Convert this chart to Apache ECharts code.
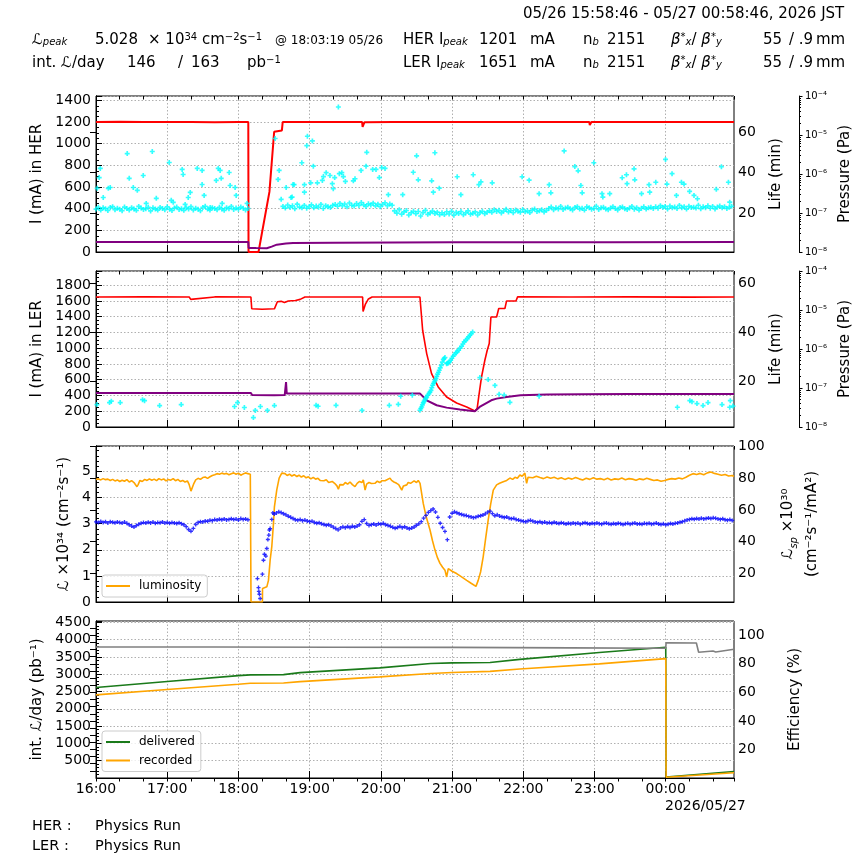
<!DOCTYPE html>
<html>
<head>
<meta charset="utf-8">
<script src="https://cdn.jsdelivr.net/npm/echarts@6/dist/echarts.min.js"></script>
<style>
  html, body { margin: 0; background: #fff; }
  #chart { width: 864px; height: 864px; }
</style>
</head>
<body>
<div id="chart"></div>
<script>
// time axis: minutes after 16:00 on 05/26
const tickMinutes = [0, 60, 120, 180, 240, 300, 360, 420, 480]
const tickLabels = ['16:00', '17:00', '18:00', '19:00', '20:00', '21:00', '22:00', '23:00', '00:00']

// HER panel (mA on left, life in min on right)
const herCurrent = [[0,1200],[20,1202],[40,1199],[60,1201],[80,1200],[100,1198],[120,1201],[128.3,1200],[128.5,0],[136.9,0],[146.1,555],[150.1,1110],[156.6,1122],[157.3,1200],[180,1201],[200,1199],[224.2,1200],[224.6,1155],[225.6,1160],[226.2,1198],[250,1200],[300,1201],[350,1199],[400,1200],[415.6,1200],[416,1172],[416.9,1178],[417.4,1200],[450,1201],[500,1199],[537.5,1200]]
const herPurple = [[0,93],[128.3,93],[128.6,38],[135,36],[143.9,34],[148,50],[152.3,68],[160,78],[166,82],[200,85],[250,87],[300,89],[350,90],[433,91],[537.5,92]]
// life band, sampled every 2 min
const herLifeA = [22.1,23.0,21.6,22.7,22.3,21.4,22.9,23.3,21.8,22.5,22.0,21.3,23.1,22.4,21.7,22.8,22.2,21.5,23.4,22.6,21.9,22.3,23.0,21.2,22.7,22.1,21.6,22.9,22.4,21.8,23.2,22.0,21.4,22.6,23.1,21.9,22.3,21.5,22.8,22.2,23.3,21.7,22.5,22.0,21.3,22.9,23.5,22.1,21.6,22.7,22.4,21.8,23.0,22.2,21.5,22.8,22.3,23.4,21.9,22.6,22.0,23.1,22.5,21.7,22.4]
const herLifeB = [23.4,22.6,24.1,22.9,23.7,22.3,24.5,23.1,22.8,23.9,22.5,23.3,24.2,22.7,23.6,23.0,24.4,22.4,23.8,23.2,22.9,24.0,
  24.3,23.5,24.9,23.8,24.6,23.2,25.1,24.0,23.6,24.8,23.9,25.3,24.2,23.4,24.7,24.1,25.0,23.7,24.5,23.3,24.4,25.2,23.8,24.6,24.0,
  21.2,20.1,21.8,19.6,20.7,21.4,19.2,20.3,21.0,19.8,20.9,18.7,20.4,21.5,19.5,20.2,21.1,19.9,20.6,19.3,
  20.3,19.4,20.8,19.7,21.0,19.1,20.5,19.9,20.9,19.3,20.2,21.2,19.6,20.0,20.7,19.2,20.4,21.0,19.8,20.6,
  21.3,20.5,21.8,20.9,21.5,20.2,21.1,22.0,20.7,21.4,20.3,21.7,21.0,20.6,21.9,20.8,21.2,20.4,21.6,22.1,20.9,21.3,21.8,20.7,21.5,
  22.4,23.1,21.8,22.7,22.2,23.4,21.9,22.6,23.0,22.3,21.7,22.9,23.3,22.1,22.5,21.6,23.2,22.8,22.0,22.4,23.5,21.9,22.7,23.0,22.2,21.8,22.6,23.3,22.4,21.7,22.9,23.1,22.3,21.9,22.6,23.4,22.0,22.8,21.6,22.5,23.2,22.1,22.7,23.0,22.4,
  23.2,22.5,23.8,22.9,23.4,22.2,23.6,22.8,23.1,22.4,23.9,22.7,23.3,22.1,23.5,22.9,23.0,22.6,24.0,22.3,23.2,22.8,23.7,22.5,23.4,22.2,23.1,23.6,22.7,23.3,22.4,23.0,23.5]
const herLifeOut = [[1.0,32.3],[2.7,37.6],[3.6,42.1],[6.1,27.8],[10.4,32.3],[12.0,32.7],[26.3,49.4],[28.0,37.2],[31.4,32.7],[34.8,31.3],[39.8,38.6],[42.3,24.9],[47.4,50.4],[50.8,27.4],[61.7,45],[63.4,26.4],[65.1,25.4],[72.6,41.6],[73.4,39.1],[75.1,24.4],[77.7,27.8],[79.4,30.3],[85.3,42.1],[89.4,41.1],[89.4,34.2],[91.1,28.8],[96.2,22.9],[101.3,36.2],[103.0,42.1],[104.6,41.1],[105.5,37.2],[106.3,24.9],[112.2,40.1],[113.0,33.7],[117.2,32.7],[118.1,28.8],[127.3,24.9],
  [150.9,56.8],[154.3,41.1],[153.4,36.7],[156.0,26.9],[160.2,32.7],[164.3,27.8],[166.0,34.2],[165.2,28],[166.9,34.1],[173.4,44.9],[175.6,34.1],[175.6,30.4],[177.6,53.3],[178.1,57.9],[182.3,55.6],[183.1,43.2],[180.9,35],[204.2,72.3],[186.5,35],[190.7,36.2],[191.6,38.1],[193.9,40],[197.1,38.6],[199.1,34.6],[199.9,32.1],[201.1,37.6],[205.0,39.5],[207.1,40],[208.4,38.1],[210.1,35.7],[216.8,36],[218.2,37],[223.3,41.1],[227.5,43.2],[228.1,50],[233.1,41.6],[235.9,41.6],[238.7,37.6],[240.7,42.5],[243.5,42.1],[246.3,29.2],[258.4,29.2],[267.3,40.2],[270.1,48.3],[271.5,36.5],[282.8,36],[285.5,49.8],[284.2,30.4],[289.2,32.4],[304.3,38],[307.4,29.2],[317.8,39],[322.6,34.1],[324.3,35.5],[333.8,35],[359.0,38],[364.9,36.3],[373.3,29.7],[381.8,34.1],[383.2,30.1],[394.4,50.7],[403.4,43],[406.2,40.9],[408.5,33.7],[409.6,30.1],[419.4,44.9],[426.3,29.7],[427.0,28],[432.8,29.7],[443.3,37.5],[446.9,39],[447.4,34.6],[453.3,41.9],[453.9,36.5],[459.6,29.7],[465.9,34.1],[466.5,30.4],[471.6,35.3],[479.8,46.5],[481.0,34.4],[485.3,39.5],[489.0,28.8],[493.2,35.3],[495.4,34.4],[500.1,30.8],[503.8,28.8],[506.7,27.2],[522.6,31.8],[526.9,42.9],[532.8,35.3],[533.9,25.5]]

// LER panel
const lerCurrent = [[0,1650],[40,1652],[78.5,1650],[79.8,1620],[81,1645],[100,1651],[130.5,1650],[131.2,1500],[140,1495],[150.3,1500],[152.8,1590],[156,1595],[158.8,1580],[162,1600],[168,1605],[172,1620],[176,1650],[200,1650],[224.6,1650],[225,1465],[227,1560],[229.5,1625],[232.6,1650],[250,1650],[272.9,1650],[275.2,1228],[278.6,932],[282.7,678],[288.3,508],[295.4,381],[303.8,305],[312.3,254],[319.2,203],[321.1,234],[322.8,424],[324.8,635],[327.6,847],[329.6,974],[331.3,1059],[332.7,1397],[337.5,1397],[339.3,1504],[344.5,1504],[345.9,1600],[353.8,1600],[355.2,1651],[400,1650],[450,1651],[500,1649],[537.5,1650]]
const lerPurple = [[0,432],[130.5,432],[131.5,405],[150,402],[159,405],[160,420],[160.1,570],[160.6,570],[160.7,424],[200,424],[250,424],[273,424],[278.6,339],[287,276],[295.4,246],[306.6,221],[319.2,199],[323.2,254],[333,339],[337.5,360],[346,381],[357.6,403],[380,411],[408,415],[450,418],[537.5,420]]
const lerLife = [[0.8,10.5],[11.4,11.3],[12.9,11.9],[20.4,11.3],[39.2,12.5],[40.9,12.1],[53.6,10.1],[71.8,10.5],[116.7,9.7],[119.2,11.3],[125.0,9.3],[132.6,5.2],[134.2,8.1],[138.5,9.7],[144.4,8.1],[150.3,10.1],[185.4,10.2],[187.1,9.8],[202.2,10.2],[224.1,8.1],[247.1,10.2],[254.7,10.6],[256.7,13.9],[266.5,14.3],
  [272.9,8.2],[273.6,8.9],[274.4,9.5],[275.0,10.4],[275.7,11.2],[276.4,11.8],[277.2,12.5],[277.9,13.1],[278.6,13.6],[279.5,14.3],[280.5,15],[281.3,15.6],[282.2,16.3],[282.9,17.4],[283.6,18.4],[284.3,19.1],[285.0,19.7],[285.7,20.4],[286.4,21.1],[287.1,22.0],[287.8,22.9],[288.5,23.7],[289.2,24.5],[290.0,25.5],[290.9,26.5],[291.8,27.8],[292.6,28.9],[293.3,29.3],[294.0,29.7],[295.4,27.2],[296.1,27.4],[296.8,27.5],[297.8,28.0],[298.8,28.6],[299.8,29.4],[300.9,30.2],[302.0,30.9],[303.2,31.6],[304.3,32.1],[305.5,32.7],[306.7,33.5],[308.0,34.3],[309.1,35.2],[310.2,36.1],[311.5,36.7],[312.8,37.4],[313.9,38.1],[315.0,38.8],[316.1,39.4],[317.3,40.1],
  [323.4,21.5],[330.4,20.7],[336.1,18.3],[339.6,14.7],[343.9,14.4],[348.7,11.4],[373.3,13.9],[489.8,9.4],[500.3,12.1],[502.1,11.7],[506.3,10.9],[511.4,10.1],[515.6,11.3],[527.4,10.5],[533.9,9.4],[534.4,12.1],[536.6,9.9]]

// luminosity panel (x10^34 on left, specific luminosity x10^30 on right)
const luminosity = [[0,4.70],[2,4.72],[4,4.68],[6,4.73],[8,4.69],[10,4.71],[12,4.66],[14,4.70],[16,4.64],[18,4.68],[20,4.62],[22,4.67],[24,4.63],[26,4.69],[28,4.60],[30,4.65],[32,4.58],[33.5,4.62],[34.5,4.42],[35.5,4.50],[37,4.66],[39,4.62],[41,4.70],[43,4.66],[45,4.72],[47,4.67],[49,4.71],[51,4.65],[53,4.73],[55,4.68],[57,4.72],[59,4.64],[61,4.70],[63,4.67],[65,4.73],[67,4.65],[69,4.70],[71,4.62],[73,4.66],[75,4.60],[77,4.64],[78.5,4.50],[80,4.25],[81,4.30],[82.5,4.55],[84,4.68],[86,4.74],[88,4.70],[90,4.77],[92,4.79],[94,4.74],[96,4.80],[98,4.85],[100,4.88],[102,4.92],[104,4.90],[106,4.94],[108,4.91],[110,4.93],[112,4.88],[114,4.92],[116,4.95],[118,4.90],[120,4.94],[122,4.86],[124,4.91],[126,4.95],[128,4.92],[130,4.90],
  [130.6,0],[140.2,0],[140.3,0.52],[143.9,0.58],[145.3,0.83],[146.7,1.6],[148.1,2.12],[149.5,3.0],[150.3,3.65],[152.3,4.3],[154.3,4.75],[156.5,4.94],[158,4.88],[159.3,4.92],[161,4.85],[163,4.90],[165,4.83],[167,4.88],[169.2,4.81],[171,4.86],[173,4.79],[175,4.84],[177,4.76],[179,4.80],[181,4.72],[183,4.78],[185,4.71],[187,4.74],[188.8,4.66],[190,4.72],[192,4.65],[194,4.69],[196,4.58],[197.2,4.55],[199,4.62],[201,4.55],[203,4.45],[204.2,4.32],[205.5,4.50],[207,4.55],[208.4,4.49],[210,4.58],[212,4.52],[214,4.60],[216,4.50],[218.2,4.42],[220,4.55],[222,4.62],[224,4.58],[225.2,4.68],[226.7,4.29],[228,4.52],[230,4.58],[232,4.54],[233.6,4.61],[235,4.55],[237,4.63],[239,4.58],[241,4.65],[243.5,4.65],[245,4.70],[247.7,4.75],[249,4.66],[251,4.60],[253.3,4.55],[255,4.50],[256.5,4.38],[257.6,4.29],[259,4.45],[261.8,4.49],[263,4.58],[265,4.55],[266,4.61],[268,4.64],[270,4.58],[271.5,4.66],[273,4.55],
  [275.7,3.78],[278,3.30],[281.4,2.76],[283.5,2.35],[285.6,1.99],[287.5,1.72],[289.8,1.48],[292,1.33],[294,1.22],[295.4,0.96],[296.8,1.28],[300,1.18],[303.8,1.09],[308,0.96],[312.3,0.83],[316,0.72],[320.1,0.60],[322,0.83],[324,1.15],[326.2,1.73],[328.3,2.45],[330.4,3.14],[332.5,3.75],[334.7,4.29],[337.5,4.49],[340,4.55],[343.1,4.61],[346,4.66],[348.7,4.75],[351,4.70],[353,4.78],[355,4.74],[357.1,4.87],[359,4.82],[361.3,4.94],[362.8,4.55],[364,4.78],[365.5,4.81],
  [368,4.76],[371,4.82],[374,4.77],[377,4.73],[380,4.79],[383,4.74],[386,4.78],[389,4.72],[392,4.76],[395,4.70],[398,4.75],[401,4.71],[404,4.77],[407,4.72],[410,4.68],[413,4.74],[416,4.70],[419,4.76],[422,4.71],[425,4.73],[428,4.69],[431,4.74],[434,4.68],[437,4.72],[440,4.70],[443,4.75],[446,4.69],[449,4.73],[452,4.71],[455,4.67],[458,4.72],[461,4.69],[464,4.74],[467,4.70],[470,4.66],[473,4.68],[476,4.63],[479,4.66],[482,4.70],[485,4.73],[488,4.71],[491,4.75],[494,4.72],[497,4.78],[500,4.86],[503,4.92],[506,4.89],[509,4.93],[512,4.88],[515,4.95],[518,4.98],[521,4.93],[524,4.90],[527,4.86],[530,4.89],[533,4.83],[536,4.85],[537.5,4.81]]
// specific luminosity, sampled every 2 min (before 18:08 and after 18:32) plus the recovery points
const specLumiA = [52.4,52.0,52.7,52.1,52.5,51.8,52.6,52.2,51.9,52.4,52.0,51.7,52.3,51.5,50.6,49.8,49.2,50.1,50.9,51.6,52.0,51.7,52.2,51.8,52.3,51.6,52.0,51.9,52.4,51.7,52.1,51.5,52.0,51.8,51.4,51.9,51.3,50.6,49.4,47.6,46.5,48.3,50.8,52.1,52.6,52.4,53.0,52.8,53.5,53.2,53.9,53.6,54.1,53.8,54.3,53.7,54.0,54.4,53.9,54.2,53.6,54.5,54.0,54.3,53.8]
const specLumiRise = [[136,16.6],[136.9,10.9],[137.7,6.7],[138.3,4.0],[137.2,8.5],[140.2,19.4],[141.1,28.2],[141.9,32.0],[143.1,30.8],[143.9,35.6],[144.8,41.3],[145.6,44.1],[146.1,47.3],[146.7,48.2],[148.1,54.0],[149,58.1],[150.2,57.4]]
const specLumiB = [58.1,58.8,58.3,57.6,56.9,56.0,55.3,54.6,53.8,53.5,53.9,53.2,53.6,53.0,52.6,52.9,52.1,51.6,51.9,51.2,50.8,50.3,50.7,49.9,49.1,48.2,47.4,48.6,49.3,48.8,49.5,48.9,49.7,49.2,49.8,50.6,52.8,53.9,51.4,50.2,50.7,51.1,50.4,51.3,50.9,51.5,50.6,50.2,49.6,49.0,48.4,48.9,49.6,48.8,49.4,48.6,48.1,48.5,49.2,50.3,51.2,52.6,54.8,56.5,58.4,59.6,60.6,58.7,55.3,51.6,48.9,46.4,41.2,55.5,57.9,58.8,58.2,57.6,57.1,56.7,56.4,55.9,55.6,55.1,55.4,56.0,56.3,56.8,57.5,58.6,59.2,57.7,56.3,56.9,56.1,55.7,55.2,55.5,54.8,54.4,54.7,53.9,53.6,53.2,52.8,52.5,53.1,53.4,52.9,52.4,52.1,52.6,51.9,52.3,51.8,52.0,51.6,52.2,51.7,51.4,51.9,51.5,51.1,51.6,51.2,51.8,51.3,51.7,51.0,51.5,51.9,51.4,51.1,51.6,51.2,51.8,51.3,51.0,51.5,51.7,51.2,50.9,51.4,51.1,51.6,51.3,50.8,51.2,51.5,51.0,51.4,51.7,51.1,51.3,50.9,51.5,51.2,51.6,51.0,51.3,51.7,51.1,50.8,51.2,50.6,51.0,51.4,51.1,51.5,51.8,52.2,52.6,53.1,53.7,54.0,54.4,54.1,54.6,54.2,54.8,54.3,54.6,54.9,54.5,55.0,54.7,54.3,54.0,54.4,53.8,53.5,53.9,53.3,53.6]

// integrated luminosity panel (pb^-1 on left, efficiency % on right)
const delivered = [[0,2615],[60,2790],[120,2961],[130,2981],[158,2990],[172,3048],[239,3184],[282,3313],[300,3330],[332,3342],[357,3429],[424,3631],[480,3781],[480.3,30],[537.5,190]]
const recorded = [[0,2404],[60,2560],[120,2713],[130,2742],[158,2745],[172,2788],[239,2923],[282,3024],[300,3050],[332,3082],[357,3154],[424,3299],[480,3452],[480.3,20],[537.5,153]]
const efficiency = [[0,91.8],[100,91.8],[200,91.6],[300,91.5],[400,91.2],[480,90.9],[480.3,94.8],[505.8,94.6],[507.7,88.1],[519.8,89],[520.7,90.2],[522.1,88.3],[537.5,90.2]]

const lifeTicks = [20, 40, 60]
const spTicks = [20, 40, 60, 80, 100]
const effLabels = [20, 40, 60, 80, 100]
const effTicks = [5,10,15,20,25,30,35,40,45,50,55,60,65,70,75,80,85,90,95,100,105]

const FONT = 'DejaVu Sans'
const X_MAX = 537.5
const PLUS = 'path://M2,0H4V2H6V4H4V6H2V4H0V2H2Z'
const SUP = { '-': '⁻', '0': '⁰', '1': '¹', '2': '²', '3': '³', '4': '⁴', '5': '⁵', '6': '⁶', '7': '⁷', '8': '⁸', '9': '⁹' }

const pressureMinor = []
for (let e = -8; e < -4; e++) {
  for (let m = 2; m <= 9; m++) pressureMinor.push(m * Math.pow(10, e))
}

function sampled (start, step, vals) {
  return vals.map((v, i) => [start + i * step, v])
}

const grids = [
  { left: 96, top: 96, width: 638, height: 156 },
  { left: 96, top: 271, width: 638, height: 156 },
  { left: 96, top: 446, width: 638, height: 156 },
  { left: 96, top: 621, width: 638, height: 157 }
].map(g => Object.assign(g, { show: true, borderColor: '#000', borderWidth: 1, containLabel: false }))

const black = { color: '#000', width: 1 }
const gridLine = { show: true, lineStyle: { color: '#b0b0b0', width: 1, type: [1.5, 2] } }

let xAxes = []
grids.forEach((g, gi) => {
  xAxes.push({
    type: 'value', gridIndex: gi, min: 0, max: X_MAX, interval: 60,
    axisLine: { show: true, lineStyle: black },
    axisTick: { show: true, inside: true, length: 7, customValues: tickMinutes, lineStyle: black },
    axisLabel: {
      show: gi === 3, customValues: tickMinutes, margin: 4,
      color: '#000', fontSize: 14, fontFamily: FONT,
      formatter: v => tickLabels[tickMinutes.indexOf(v)] || ''
    },
    splitLine: gridLine
  })
  xAxes.push({
    type: 'value', gridIndex: gi, min: 0, max: X_MAX, interval: 20,
    axisLine: { show: false },
    axisTick: { show: true, inside: true, length: 3.5, lineStyle: black },
    axisLabel: { show: false },
    splitLine: { show: false }
  })
})

const nameStyle = { color: '#000', fontSize: 15, fontFamily: FONT,
  rich: { s: { fontSize: 10, fontFamily: FONT, verticalAlign: 'bottom', fontStyle: 'italic' } } }
const labelStyle = { color: '#000', fontSize: 14, fontFamily: FONT, formatter: v => String(v) }

function leftAxis (gi, min, max, interval, minorSplit, name, nameGap, showMin) {
  return {
    type: 'value', gridIndex: gi, position: 'left', min, max, interval,
    axisLine: { show: true, lineStyle: black },
    axisTick: { show: true, inside: true, length: 6, lineStyle: black },
    minorTick: { show: true, splitNumber: minorSplit, length: 3, lineStyle: black },
    axisLabel: Object.assign({ margin: 5, showMaxLabel: false, showMinLabel: showMin }, labelStyle),
    splitLine: gridLine,
    name, nameLocation: 'middle', nameGap, nameTextStyle: nameStyle
  }
}

function rightAxis (gi, min, max, labels, ticks, name, nameGap, lineHeight) {
  return {
    type: 'value', gridIndex: gi, position: 'right', min, max,
    axisLine: { show: true, lineStyle: black },
    axisTick: { show: true, inside: true, length: 6, customValues: ticks, lineStyle: black },
    axisLabel: Object.assign({ margin: 4, customValues: labels }, labelStyle),
    splitLine: { show: false },
    name, nameLocation: 'middle', nameGap,
    nameTextStyle: Object.assign({ lineHeight: lineHeight || 18 }, nameStyle)
  }
}

function pressureAxes (gi) {
  return [{
    type: 'log', gridIndex: gi, position: 'right', offset: 65, min: 1e-8, max: 1e-4, logBase: 10,
    axisLine: { show: true, lineStyle: black },
    axisTick: { show: true, length: 3.5, lineStyle: black },
    axisLabel: {
      margin: 6, color: '#000', fontSize: 10, fontFamily: FONT,
      formatter: v => '10' + String(Math.round(Math.log10(v))).split('').map(c => SUP[c]).join('')
    },
    splitLine: { show: false },
    name: 'Pressure (Pa)', nameLocation: 'middle', nameGap: 30, nameTextStyle: nameStyle
  }, {
    type: 'log', gridIndex: gi, position: 'right', offset: 65, min: 1e-8, max: 1e-4, logBase: 10,
    axisLine: { show: false },
    axisTick: { show: true, length: 2, customValues: pressureMinor, lineStyle: black },
    axisLabel: { show: false },
    splitLine: { show: false }
  }]
}

const yAxes = [
  leftAxis(0, 0, 1440, 200, 4, 'I (mA) in HER', 42, true),
  rightAxis(0, 1, 77.7, lifeTicks, lifeTicks, 'Life (min)', 21),
  ...pressureAxes(0),
  leftAxis(1, 0, 1980, 200, 4, 'I (mA) in LER', 42, true),
  rightAxis(1, 1.35, 65, lifeTicks, lifeTicks, 'Life (min)', 21),
  ...pressureAxes(1),
  leftAxis(2, 0, 5.98, 1, 5, 'ℒ ×10³⁴ (cm⁻²s⁻¹)', 16, true),
  rightAxis(2, 1.8, 100.4, spTicks, spTicks, 'ℒ{s|sp} ×10³⁰\n(cm⁻²s⁻¹/mA²)', 36, 24),
  leftAxis(3, 0, 4540, 500, 5, 'int. ℒ/day (pb⁻¹)', 44, false),
  rightAxis(3, 0, 110, effLabels, effTicks, 'Efficiency (%)', 52)
]

function line (name, xi, yi, data, color, width, z) {
  return { name, type: 'line', xAxisIndex: xi, yAxisIndex: yi, data, symbol: 'none',
    lineStyle: { color, width }, itemStyle: { color }, z: z || 2, silent: true }
}
function dots (xi, yi, data, color, size) {
  return { type: 'scatter', xAxisIndex: xi, yAxisIndex: yi, data, symbol: PLUS, symbolSize: size,
    itemStyle: { color }, z: 4, silent: true }
}

const series = [
  line('HER current', 0, 0, herCurrent, '#ff0000', 2),
  line('HER aux', 0, 0, herPurple, '#800080', 2),
  dots(0, 1, sampled(0, 2, herLifeA).concat(sampled(157.5, 2, herLifeB), herLifeOut), '#00ffff', 5),
  line('LER current', 2, 4, lerCurrent, '#ff0000', 1.6),
  line('LER aux', 2, 4, lerPurple, '#800080', 2),
  dots(2, 5, lerLife, '#00ffff', 5),
  line('luminosity', 4, 8, luminosity, '#ffa500', 1.6),
  dots(4, 9, sampled(0, 2, specLumiA).concat(specLumiRise, sampled(152, 2, specLumiB)), '#0000ff', 4),
  line('delivered', 6, 10, delivered, '#1a7a1a', 1.6),
  line('recorded', 6, 10, recorded, '#ffa500', 1.6, 3),
  line('efficiency', 6, 11, efficiency, '#808080', 1.6)
]

const legendBase = {
  orient: 'vertical', icon: 'rect', itemWidth: 24, itemHeight: 2, itemGap: 4.5,
  borderColor: '#cccccc', borderWidth: 1, borderRadius: 3, padding: [4, 6, 4, 4],
  backgroundColor: 'rgba(255,255,255,0.8)',
  textStyle: { color: '#000', fontSize: 12, fontFamily: FONT, lineHeight: 14, padding: [0, 0, 0, 4] }
}

const RICH = {
  i: { fontSize: 15, fontFamily: FONT, fontStyle: 'italic' },
  si: { fontSize: 10, fontFamily: FONT, fontStyle: 'italic', verticalAlign: 'bottom' },
  s: { fontSize: 10, fontFamily: FONT, verticalAlign: 'bottom' },
  u: { fontSize: 10, fontFamily: FONT, verticalAlign: 'top' }
}
function txt (x, y, text, size) {
  return { type: 'text', x, y, silent: true,
    style: { text, fontFamily: FONT, fontSize: size || 15, fill: '#000', align: 'left', verticalAlign: 'middle', rich: RICH } }
}

const beta = '{i|β}{u|*}{si|x}/ {i|β}{u|*}{si|y}'
const graphics = [
  txt(523, 14, '05/26 15:58:46 - 05/27 00:58:46, 2026 JST'),
  txt(32, 40, '{i|ℒ}{si|peak}'),
  txt(95, 40, '5.028'),
  txt(148, 40, '× 10{u|34} cm{u|−2}s{u|−1}'),
  txt(275, 41, '@ 18:03:19 05/26', 12),
  txt(403, 40, 'HER I{si|peak}'),
  txt(479, 40, '1201'),
  txt(530, 40, 'mA'),
  txt(583, 40, 'n{si|b}'),
  txt(607, 40, '2151'),
  txt(671, 40, beta),
  txt(763, 40, '55'),
  txt(789, 40, '/ .9'),
  txt(816, 40, 'mm'),
  txt(32, 63, 'int. {i|ℒ}/day'),
  txt(127, 63, '146'),
  txt(178, 63, '/'),
  txt(191, 63, '163'),
  txt(247, 63, 'pb{u|−1}'),
  txt(403, 63, 'LER I{si|peak}'),
  txt(479, 63, '1651'),
  txt(530, 63, 'mA'),
  txt(583, 63, 'n{si|b}'),
  txt(607, 63, '2151'),
  txt(671, 63, beta),
  txt(763, 63, '55'),
  txt(789, 63, '/ .9'),
  txt(816, 63, 'mm'),
  txt(665, 806, '2026/05/27', 14),
  txt(32, 826, 'HER :', 14.5),
  txt(95, 826, 'Physics Run', 14.5),
  txt(32, 846, 'LER :', 14.5),
  txt(95, 846, 'Physics Run', 14.5)
]

const myChart = echarts.init(document.getElementById('chart'), null, { renderer: 'canvas' })
myChart.setOption({
  animation: false,
  backgroundColor: '#fff',
  textStyle: { fontFamily: FONT },
  grid: grids,
  xAxis: xAxes,
  yAxis: yAxes,
  legend: [
    Object.assign({ data: ['luminosity'], left: 102, top: 575 }, legendBase),
    Object.assign({ data: ['delivered', 'recorded'], left: 102, top: 731 }, legendBase)
  ],
  graphic: graphics,
  series
})
</script>
</body>
</html>
